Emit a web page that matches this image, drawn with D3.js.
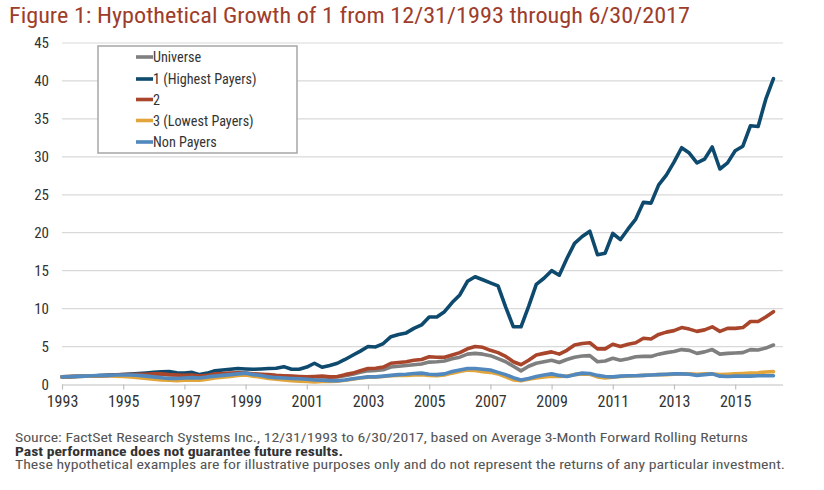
<!DOCTYPE html>
<html>
<head>
<meta charset="utf-8">
<script src="https://cdn.jsdelivr.net/npm/d3@7"></script>
<style>
  body { margin: 0; background: #fff; }
  svg text { font-family: "Liberation Sans Narrow", "Arial Narrow", "Roboto Condensed", sans-serif; }
</style>
</head>
<body>
<svg id="chart" width="824" height="490"></svg>
<script>
// ---- data (quarterly, starting 12/31/1993) ----
const seriesNames = ["Universe", "1 (Highest Payers)", "2", "3 (Lowest Payers)", "Non Payers"];
const seriesColors = ["#7f7f7f", "#0e4a6e", "#a8452b", "#e2a53c", "#5189bf"];

const universe = [1.0,1.03,1.06,1.08,1.1,1.13,1.17,1.2,1.25,
  1.28,1.3,1.32,1.35,1.35,1.3,1.25,
  1.2,1.22,1.1,1.15,1.3,1.35,1.4,1.45,
  1.45,1.35,1.3,1.25,1.15,1.1,1.05,1.0,
  0.95,1.0,1.0,0.95,1.0,1.15,1.35,1.6,
  1.8,1.85,1.95,2.3,2.4,2.5,2.6,2.7,
  2.95,3.0,3.1,3.4,3.6,4.0,4.1,4.0,
  3.8,3.4,3.0,2.4,1.8,2.4,2.8,3.0,
  3.2,2.9,3.3,3.6,3.75,3.8,3.0,3.1,
  3.45,3.2,3.4,3.65,3.7,3.7,4.0,4.2,
  4.35,4.6,4.5,4.1,4.3,4.6,4.0,4.1,
  4.15,4.2,4.6,4.55,4.8,5.2];

const highest = [1.0,1.02,1.05,1.1,1.12,1.18,1.22,1.28,1.32,1.38,
  1.45,1.52,1.6,1.68,1.72,1.55,1.5,1.6,1.3,1.5,
  1.8,1.9,2.0,2.1,2.05,2.0,2.05,2.1,2.15,2.35,
  2.0,2.0,2.3,2.8,2.27,2.5,2.8,3.3,3.85,4.4,
  5.0,4.95,5.4,6.3,6.6,6.8,7.4,7.85,8.9,8.9,
  9.6,10.8,11.8,13.6,14.2,13.8,13.4,13.0,10.2,7.6,
  7.6,10.3,13.2,14.0,15.0,14.4,16.6,18.6,19.5,20.2,
  17.1,17.3,19.9,19.1,20.5,21.8,24.0,23.9,26.3,27.6,
  29.3,31.2,30.5,29.2,29.7,31.3,28.4,29.2,30.8,31.4,
  34.1,34.0,37.6,40.3];

const second = [1.0,1.05,1.1,1.1,1.12,1.15,1.2,1.25,1.3,
  1.3,1.35,1.35,1.4,1.4,1.3,1.25,
  1.2,1.25,1.1,1.2,1.4,1.45,1.5,1.55,
  1.5,1.4,1.35,1.3,1.2,1.15,1.1,1.05,
  1.0,1.05,1.1,1.0,1.05,1.3,1.5,1.8,
  2.1,2.15,2.3,2.8,2.9,3.0,3.2,3.3,
  3.65,3.6,3.6,3.9,4.2,4.7,5.0,4.9,
  4.5,4.2,3.7,3.0,2.6,3.2,3.9,4.1,
  4.3,4.0,4.5,5.2,5.4,5.5,4.7,4.7,
  5.3,5.0,5.3,5.5,6.1,6.0,6.6,6.9,
  7.1,7.5,7.3,7.0,7.2,7.6,7.0,7.4,
  7.4,7.5,8.3,8.3,8.9,9.6];

const lowest = [1.0,1.05,1.1,1.1,1.12,1.15,1.15,1.1,1.05,
  1.0,0.9,0.8,0.7,0.6,0.55,0.5,
  0.55,0.6,0.55,0.7,0.85,0.95,1.05,1.2,
  1.25,1.1,0.95,0.8,0.7,0.6,0.5,0.45,
  0.4,0.35,0.4,0.4,0.45,0.55,0.7,0.85,
  0.95,1.0,1.05,1.15,1.2,1.2,1.25,1.3,
  1.2,1.15,1.25,1.5,1.7,1.9,1.85,1.7,
  1.6,1.4,1.0,0.6,0.5,0.7,0.85,1.0,
  1.1,1.05,1.1,1.3,1.4,1.35,1.0,0.85,
  0.95,1.05,1.1,1.15,1.2,1.25,1.3,1.3,
  1.35,1.4,1.4,1.35,1.4,1.4,1.3,1.35,
  1.4,1.45,1.5,1.55,1.65,1.7];

const nonPayers = [1.0,1.05,1.1,1.1,1.15,1.2,1.2,1.25,1.25,
  1.25,1.2,1.1,1.0,0.9,0.8,0.8,
  0.85,0.9,0.85,1.0,1.1,1.2,1.3,1.4,
  1.5,1.3,1.2,1.0,0.9,0.85,0.8,0.75,
  0.7,0.6,0.55,0.5,0.5,0.6,0.75,0.9,
  1.0,1.0,1.1,1.2,1.3,1.35,1.45,1.5,
  1.35,1.3,1.4,1.7,1.9,2.1,2.1,2.0,
  1.9,1.6,1.3,0.9,0.6,0.8,1.05,1.25,
  1.4,1.2,1.05,1.3,1.5,1.45,1.2,1.05,
  1.0,1.1,1.15,1.15,1.2,1.25,1.3,1.35,
  1.4,1.4,1.35,1.2,1.3,1.4,1.1,1.05,
  1.1,1.1,1.1,1.15,1.15,1.15];

const xTickLabels = ["1993","1995","1997","1999","2001","2003","2005","2007","2009","2011","2013","2015"];
const yTicks = [0,5,10,15,20,25,30,35,40,45];

const titleText = "Figure 1: Hypothetical Growth of 1 from 12/31/1993 through 6/30/2017";
const footnotes = [
  "Source: FactSet Research Systems Inc., 12/31/1993 to 6/30/2017, based on Average 3-Month Forward Rolling Returns",
  "Past performance does not guarantee future results.",
  "These hypothetical examples are for illustrative purposes only and do not represent the returns of any particular investment."
];

const allSeries = [universe, highest, second, lowest, nonPayers];

// ---- layout ----
const svg = d3.select("#chart");
const plotLeft = 62, plotRight = 783, plotTop = 43, plotBottom = 384.5;

const x = d3.scaleLinear().domain([0, 94.25]).range([plotLeft, plotRight]);
const y = d3.scaleLinear().domain([0, 45]).range([plotBottom, plotTop]);

// title
svg.append("text")
  .attr("x", 9).attr("y", 23)
  .attr("font-size", 22)
  .attr("fill", "#9e3d2b")
  .attr("textLength", 681)
  .attr("lengthAdjust", "spacingAndGlyphs")
  .text(titleText);

// gridlines
svg.append("g")
  .selectAll("line")
  .data(yTicks.filter(d => d > 0))
  .join("line")
  .attr("x1", plotLeft).attr("x2", plotRight)
  .attr("y1", d => y(d)).attr("y2", d => y(d))
  .attr("stroke", "#d9d9d9").attr("stroke-width", 1.2);

// y axis labels
const yAxis = d3.axisLeft(y).tickValues(yTicks).tickSize(0).tickPadding(0);
const gy = svg.append("g").attr("transform", `translate(${plotLeft - 13},0)`).call(yAxis);
gy.select(".domain").remove();
gy.selectAll("text")
  .attr("font-size", 15)
  .attr("fill", "#333")
  .attr("font-family", '"Liberation Sans Narrow", "Arial Narrow", sans-serif');

// x axis
const tickIdx = xTickLabels.map((d, i) => i * 8);
const xAxis = d3.axisBottom(x).tickValues(tickIdx)
  .tickFormat((d, i) => xTickLabels[i]).tickSize(5).tickPadding(6);
const gx = svg.append("g").attr("transform", `translate(0,${plotBottom})`).call(xAxis);
gx.select(".domain").attr("stroke", "#bfbfbf").attr("stroke-width", 1.2)
  .attr("d", `M${plotLeft},0.5H${plotRight}`);
gx.selectAll(".tick line").attr("stroke", "#bfbfbf").attr("stroke-width", 1.2);
gx.selectAll("text")
  .attr("font-size", 16)
  .attr("fill", "#333")
  .attr("font-family", '"Liberation Sans Narrow", "Arial Narrow", sans-serif');

// lines
const line = d3.line().x((d, i) => x(i)).y(d => y(d));
svg.append("g")
  .selectAll("path")
  .data(allSeries)
  .join("path")
  .attr("d", d => line(d))
  .attr("fill", "none")
  .attr("stroke", (d, i) => seriesColors[i])
  .attr("stroke-width", 3.6)
  .attr("stroke-linejoin", "round")
  .attr("stroke-linecap", "round");

// legend
const lg = svg.append("g");
lg.append("rect")
  .attr("x", 98).attr("y", 46).attr("width", 199).attr("height", 107)
  .attr("fill", "#fff").attr("stroke", "#a6a6a6").attr("stroke-width", 1.5);
const rowY = [57, 79, 99.5, 120.5, 142];
const items = lg.selectAll("g.item").data(seriesNames).join("g").attr("class", "item")
  .attr("transform", (d, i) => `translate(0,${rowY[i]})`);
items.append("line")
  .attr("x1", 136).attr("x2", 153).attr("y1", 0).attr("y2", 0)
  .attr("stroke", (d, i) => seriesColors[i]).attr("stroke-width", 3.6);
items.append("text")
  .attr("x", 153).attr("y", 5)
  .attr("font-size", 14.2)
  .attr("fill", "#333")
  .text(d => d);

// footnotes
const fy = [442, 455.5, 469];
const fLen = [733, 328, 770];
svg.append("g").selectAll("text").data(footnotes).join("text")
  .attr("x", 15).attr("y", (d, i) => fy[i])
  .attr("font-size", 12)
  .attr("font-weight", (d, i) => i === 1 ? "bold" : "normal")
  .attr("fill", (d, i) => i === 1 ? "#333" : "#555")
  .attr("textLength", (d, i) => fLen[i])
  .attr("lengthAdjust", "spacingAndGlyphs")
  .text(d => d);
</script>
</body>
</html>
